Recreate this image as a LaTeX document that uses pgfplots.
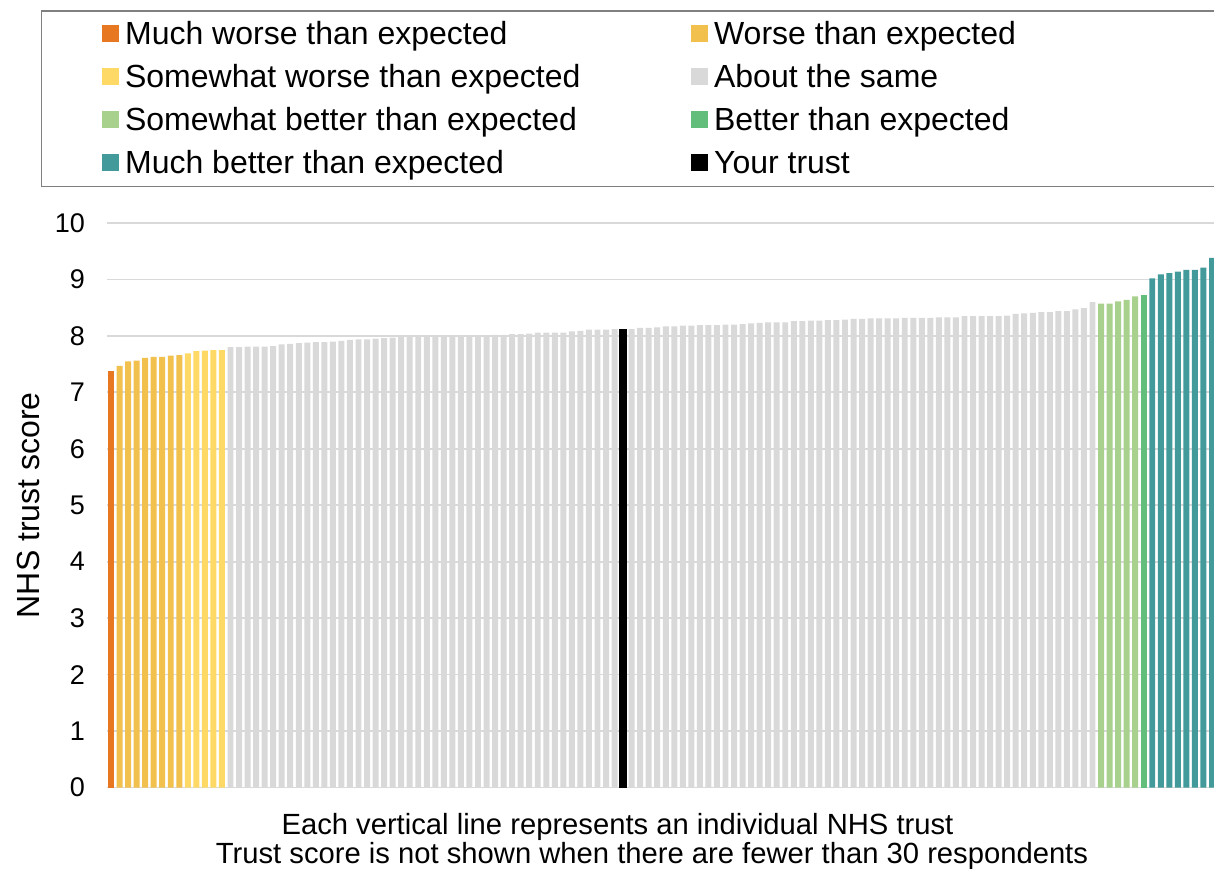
\documentclass[border=0pt]{standalone}
\usepackage{fontspec}
\setmainfont{Liberation Sans}
\usepackage{pgfplots}
\pgfplotsset{compat=1.18}
\definecolor{cMW}{HTML}{E87722}
\definecolor{cW}{HTML}{F1C04D}
\definecolor{cSW}{HTML}{FFD966}
\definecolor{cAS}{HTML}{D9D9D9}
\definecolor{cSB}{HTML}{A9D18E}
\definecolor{cB}{HTML}{63BE7B}
\definecolor{cMB}{HTML}{429A9B}
\definecolor{cGrid}{HTML}{D9D9D9}
\definecolor{cLeg}{HTML}{808080}
\pgfplotsset{mybar/.style={ybar, bar width=0.7, bar shift=0pt, draw=none,
  legend image code/.code={\fill[##1] (0pt,-3.75pt) rectangle (8.5pt,4.75pt);}}}
\begin{document}
\begin{tikzpicture}
\begin{axis}[
  at={(0,0)}, anchor=south west,
  scale only axis, width=554.5pt, height=282.25pt,
  xmin=0.531, xmax=130.47, ymin=0, ymax=10,
  axis line style={draw=none},
  ytick={0,1,...,10}, xtick=\empty,
  ymajorgrids, grid style={color=cGrid, line width=0.85pt},
  major tick length=0pt,
  tick label style={font=\fontsize{13.5}{16}\selectfont},
  /pgf/number format/assume math mode=true,
  yticklabel style={xshift=-7.5pt},
  ylabel={NHS trust score},
  ylabel style={font=\fontsize{16}{19}\selectfont, at={(axis description cs:-0.07124,0.5)}, anchor=center},
  legend columns=2,
  legend cell align=left,
  legend style={at={(-0.05951,1.37677)}, anchor=north west, draw=cLeg, line width=0.7pt,
    font=\fontsize{16}{19}\selectfont, inner xsep=30pt, inner ysep=3.8pt,
    row sep=6pt, column sep=3.2pt,
    nodes={inner sep=0pt, text height=13pt, text depth=2.5pt}},
]
\addplot[mybar, fill=cMW] coordinates {(1,7.38)};
\addlegendentry{\makebox[279.6pt][l]{Much worse than expected}}
\addplot[mybar, fill=cW] coordinates {(2,7.47) (3,7.55) (4,7.56) (5,7.61) (6,7.63) (7,7.63) (8,7.65) (9,7.66)};
\addlegendentry{\makebox[270pt][l]{Worse than expected}}
\addplot[mybar, fill=cSW] coordinates {(10,7.69) (11,7.73) (12,7.74) (13,7.75) (14,7.75)};
\addlegendentry{\makebox[279.6pt][l]{Somewhat worse than expected}}
\addplot[mybar, fill=cAS] coordinates {
(15,7.80) (16,7.80) (17,7.81) (18,7.81) (19,7.81) (20,7.82) (21,7.85) (22,7.86) (23,7.87) (24,7.88)
(25,7.89) (26,7.89) (27,7.90) (28,7.91) (29,7.93) (30,7.94) (31,7.94) (32,7.95) (33,7.96) (34,7.97)
(35,7.98) (36,7.98) (37,7.98) (38,7.98) (39,7.99) (40,7.99) (41,7.99) (42,7.99) (43,7.99) (44,7.99)
(45,8.00) (46,8.02) (47,8.02) (48,8.03) (49,8.03) (50,8.04) (51,8.06) (52,8.06) (53,8.06) (54,8.06)
(55,8.08) (56,8.09) (57,8.11) (58,8.11) (59,8.11) (60,8.12)
(62,8.12) (63,8.14) (64,8.14) (65,8.15) (66,8.17) (67,8.17) (68,8.18) (69,8.18) (70,8.19)
(71,8.19) (72,8.19) (73,8.20) (74,8.20) (75,8.21) (76,8.22) (77,8.23) (78,8.24) (79,8.24) (80,8.24)
(81,8.26) (82,8.26) (83,8.27) (84,8.27) (85,8.28) (86,8.28) (87,8.29) (88,8.30) (89,8.30) (90,8.31)
(91,8.31) (92,8.31) (93,8.31) (94,8.32) (95,8.32) (96,8.32) (97,8.32) (98,8.33) (99,8.33) (100,8.33)
(101,8.35) (102,8.35) (103,8.35) (104,8.35) (105,8.35) (106,8.36) (107,8.39) (108,8.40) (109,8.41) (110,8.42)
(111,8.42) (112,8.44) (113,8.44) (114,8.47) (115,8.49) (116,8.60)};
\addlegendentry{\makebox[270pt][l]{About the same}}
\addplot[mybar, fill=cSB] coordinates {(117,8.57) (118,8.57) (119,8.61) (120,8.64) (121,8.70)};
\addlegendentry{\makebox[279.6pt][l]{Somewhat better than expected}}
\addplot[mybar, fill=cB] coordinates {(122,8.73)};
\addlegendentry{\makebox[270pt][l]{Better than expected}}
\addplot[mybar, fill=cMB] coordinates {(123,9.02) (124,9.09) (125,9.11) (126,9.14) (127,9.17) (128,9.17) (129,9.21) (130,9.38)};
\addlegendentry{\makebox[279.6pt][l]{Much better than expected}}
\addplot[mybar, fill=black, bar width=0.95] coordinates {(61,8.12)};
\addlegendentry{\makebox[270pt][l]{Your trust}}
\end{axis}
\node[anchor=base, font=\fontsize{14.6}{17}\selectfont] at (255.25pt,-23.25pt) {Each vertical line represents an individual NHS trust};
\node[anchor=base, font=\fontsize{14.6}{17}\selectfont] at (272.5pt,-37.75pt) {Trust score is not shown when there are fewer than 30 respondents};
\pgfresetboundingbox
\path[use as bounding box] (-53.5pt,-40.25pt) rectangle (553.5pt,393.75pt);
\end{tikzpicture}
\end{document}
